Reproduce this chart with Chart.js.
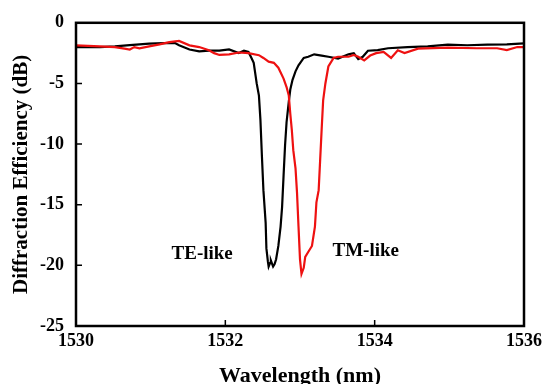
<!DOCTYPE html>
<html>
<head>
<meta charset="utf-8">
<script src="https://cdn.jsdelivr.net/npm/chart.js@4.4.1/dist/chart.umd.min.js"></script>
<style>
  body { margin: 0; background: #fff; }
  canvas { display: block; }
</style>
</head>
<body>
<canvas id="myChart" width="547" height="384"></canvas>
<script>
// TE-like (black) trace, wavelength in nm / efficiency in dB
const teWl = [1530.00, 1530.32, 1530.52, 1530.72, 1530.98, 1531.18, 1531.32, 1531.38, 1531.52, 1531.65,
  1531.78, 1531.92, 1532.05, 1532.18, 1532.25, 1532.31, 1532.35, 1532.38, 1532.42, 1532.45,
  1532.47, 1532.49, 1532.51, 1532.54, 1532.55, 1532.57, 1532.58, 1532.60, 1532.61, 1532.64,
  1532.66, 1532.68, 1532.71, 1532.74, 1532.76, 1532.78, 1532.80, 1532.82, 1532.85, 1532.87,
  1532.90, 1532.94, 1532.98, 1533.05, 1533.11, 1533.19, 1533.29, 1533.38, 1533.51, 1533.65,
  1533.72, 1533.78, 1533.84, 1533.91, 1534.04, 1534.18, 1534.44, 1534.71, 1534.98, 1535.24,
  1535.51, 1535.77, 1536.00];
const teDb = [-2.0, -2.0, -1.95, -1.84, -1.72, -1.67, -1.65, -1.85, -2.2, -2.35,
  -2.3, -2.3, -2.2, -2.5, -2.3, -2.4, -2.9, -3.3, -5.0, -6.0,
  -8.0, -11.0, -13.8, -16.5, -18.6, -19.7, -20.1, -19.8, -19.6, -20.1,
  -19.9, -19.5, -18.4, -16.8, -15.2, -12.6, -10.1, -8.2, -6.5, -5.5,
  -4.7, -4.0, -3.5, -2.9, -2.8, -2.6, -2.7, -2.8, -2.95, -2.6,
  -2.5, -3.0, -2.8, -2.3, -2.25, -2.1, -2.0, -1.95, -1.8, -1.85,
  -1.8, -1.78, -1.7];

// TM-like (red) trace
const tmWl = [1530.00, 1530.32, 1530.52, 1530.65, 1530.72, 1530.78, 1530.85, 1530.98, 1531.12, 1531.25,
  1531.38, 1531.52, 1531.65, 1531.78, 1531.85, 1531.92, 1532.05, 1532.18, 1532.31, 1532.45,
  1532.51, 1532.58, 1532.65, 1532.71, 1532.78, 1532.82, 1532.85, 1532.87, 1532.89, 1532.91,
  1532.94, 1532.96, 1532.98, 1533.00, 1533.02, 1533.05, 1533.07, 1533.11, 1533.16, 1533.20,
  1533.22, 1533.25, 1533.27, 1533.29, 1533.31, 1533.34, 1533.38, 1533.45, 1533.51, 1533.65,
  1533.72, 1533.78, 1533.86, 1533.94, 1534.02, 1534.12, 1534.22, 1534.31, 1534.40, 1534.58,
  1534.98, 1535.37, 1535.64, 1535.77, 1535.91, 1536.00];
const tmDb = [-1.86, -1.94, -2.0, -2.13, -2.2, -2.0, -2.1, -1.95, -1.78, -1.59,
  -1.5, -1.86, -2.0, -2.27, -2.5, -2.65, -2.6, -2.45, -2.5, -2.67,
  -2.9, -3.2, -3.3, -3.7, -4.6, -5.3, -6.0, -7.5, -8.8, -10.5,
  -12.0, -14.0, -16.8, -19.5, -20.7, -20.2, -19.3, -18.9, -18.4, -16.8,
  -14.8, -13.8, -11.3, -8.8, -6.4, -5.0, -3.6, -2.9, -2.8, -2.8,
  -2.65, -2.8, -3.1, -2.7, -2.5, -2.4, -2.9, -2.27, -2.5, -2.13,
  -2.05, -2.1, -2.1, -2.25, -2.0, -2.0];

const xTicks = [1530, 1532, 1534, 1536];
const yTicks = [0, -5, -10, -15, -20, -25];
const notes = [
  { text: "TE-like", wl: 1531.69, db: -19.1 },
  { text: "TM-like", wl: 1533.88, db: -18.85 },
];

const serif = "'Liberation Serif', 'Times New Roman', serif";

const toPoints = (xs, ys) => xs.map((x, i) => ({ x: x, y: ys[i] }));

// frame around the plot plus inward tick marks and the two curve labels
const framePlugin = {
  id: "frame",
  afterDatasetsDraw(chart) {
    const { ctx, chartArea: a, scales } = chart;
    ctx.save();
    ctx.strokeStyle = "#000";
    ctx.lineWidth = 2.5;
    ctx.strokeRect(a.left, a.top, a.right - a.left, a.bottom - a.top);
    ctx.lineWidth = 1.5;
    ctx.beginPath();
    xTicks.forEach((t) => {
      const px = scales.x.getPixelForValue(t);
      ctx.moveTo(px, a.bottom);
      ctx.lineTo(px, a.bottom - 6);
    });
    yTicks.forEach((t) => {
      const py = scales.y.getPixelForValue(t);
      ctx.moveTo(a.left, py);
      ctx.lineTo(a.left + 6, py);
    });
    ctx.stroke();
    ctx.fillStyle = "#000";
    ctx.font = "bold 19px " + serif;
    ctx.textAlign = "center";
    ctx.textBaseline = "middle";
    notes.forEach((n) => {
      ctx.fillText(n.text, scales.x.getPixelForValue(n.wl), scales.y.getPixelForValue(n.db));
    });
    ctx.restore();
  },
};

new Chart(document.getElementById("myChart"), {
  type: "line",
  data: {
    datasets: [
      {
        label: "TM-like",
        data: toPoints(tmWl, tmDb),
        borderColor: "#ee1111",
        borderWidth: 2.2,
        pointRadius: 0,
        tension: 0,
      },
      {
        label: "TE-like",
        data: toPoints(teWl, teDb),
        borderColor: "#000",
        borderWidth: 2.2,
        pointRadius: 0,
        tension: 0,
      },
    ],
  },
  options: {
    responsive: false,
    animation: false,
    layout: { padding: { top: 17, right: 20, left: 0, bottom: 0 } },
    plugins: { legend: { display: false }, tooltip: { enabled: false } },
    scales: {
      x: {
        type: "linear",
        min: 1530,
        max: 1536,
        afterBuildTicks: (s) => { s.ticks = xTicks.map((v) => ({ value: v })); },
        afterFit: (s) => { s.height = 58; },
        ticks: {
          color: "#000",
          font: { family: serif, size: 18, weight: "bold" },
          padding: 5,
          callback: (v) => String(v),
        },
        grid: { drawOnChartArea: false, drawTicks: false },
        border: { display: false },
        title: {
          display: true,
          text: "Wavelength (nm)",
          color: "#000",
          font: { family: serif, size: 22, weight: "bold", lineHeight: 1 },
          padding: { top: 0, bottom: -3 },
        },
      },
      y: {
        min: -25,
        max: 0,
        afterBuildTicks: (s) => { s.ticks = yTicks.map((v) => ({ value: v })); },
        afterFit: (s) => { s.width = 76; },
        ticks: {
          color: "#000",
          font: { family: serif, size: 18, weight: "bold" },
          padding: 12,
          callback: (v) => String(v),
        },
        grid: { drawOnChartArea: false, drawTicks: false },
        border: { display: false },
        title: {
          display: true,
          text: "Diffraction Efficiency (dB)",
          color: "#000",
          font: { family: serif, size: 21, weight: "bold", lineHeight: 1 },
          padding: { top: 11, bottom: 0 },
        },
      },
    },
  },
  plugins: [framePlugin],
});
</script>
</body>
</html>
